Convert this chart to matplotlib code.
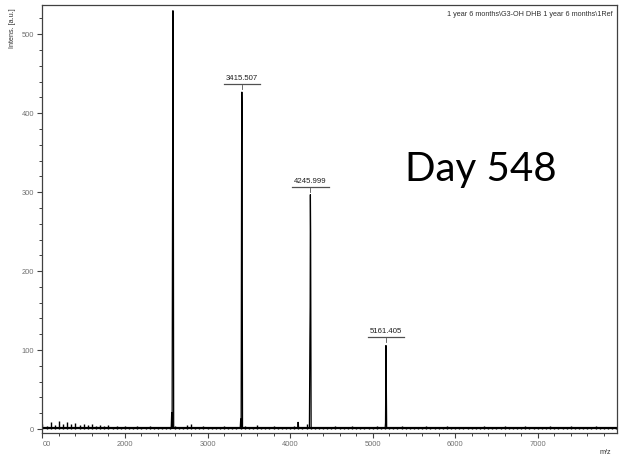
import numpy as np
import matplotlib
matplotlib.use("Agg")
import matplotlib.pyplot as plt
from matplotlib.transforms import offset_copy

# ---- spectrum data (m/z, intensity in a.u.) ----
noise_start = 1000
noise_step = 50
noise_int = [
    6, 4, 9, 5, 10, 7, 9, 6, 8, 5, 7, 5, 6, 4, 5, 4, 5, 3, 4, 3,
    4, 3, 3, 4, 2, 3, 4, 3, 2, 3, 3, 2, 4, 2, 3, 5, 6, 3, 3, 4,
    2, 3, 2, 3, 4, 2, 3, 2, 3, 4, 2, 3, 5, 3, 2, 3, 4, 3, 2, 3,
    3, 4, 2, 3, 6, 3, 2, 3, 3, 2, 3, 4, 3, 2, 3, 4, 3, 2, 3, 2,
    3, 4, 2, 3, 2, 3, 2, 4, 2, 3, 3, 2, 3, 4, 3, 3, 2, 3, 4, 2,
    3, 3, 2, 3, 2, 3, 2, 4, 3, 2, 3, 3, 4, 2, 3, 2, 3, 4, 3, 2,
    3, 2, 3, 4, 3, 2, 3, 2, 4, 3, 3, 2, 3, 2, 4, 3, 2, 3, 3, 2,
]

peak_mz = [2560, 2566, 2571, 2578, 2581, 2584, 2590,
           3396, 3402, 3407, 3413, 3415.507, 3418, 3424,
           4092, 4098, 4104,
           4234, 4240, 4243, 4245.999, 4249, 4255,
           5152, 5156, 5161.405, 5164, 5170]
peak_int = [1, 21, 1, 390, 530, 505, 1,
            1, 13, 1, 362, 427, 407, 1,
            1, 9, 1,
            1, 115, 155, 297, 248, 1,
            1, 8, 106, 80, 1]

labeled_mz = [3415.507, 4245.999, 5161.405]
labeled_int = [427, 297, 106]

x_ticks = [1000, 2000, 3000, 4000, 5000, 6000, 7000]
x_tick_labels = ["00", "2000", "3000", "4000", "5000", "6000", "7000"]
y_ticks = [0, 100, 200, 300, 400, 500]

noise_mz = noise_start + noise_step * np.arange(len(noise_int))

plt.rcParams["font.family"] = ["Liberation Sans", "DejaVu Sans"]

fig = plt.figure(figsize=(6.2, 4.69), dpi=100)
ax = fig.add_axes([42 / 620, 1 - 433 / 469, (617 - 42) / 620, (433 - 5) / 469])

# baseline band with noise spikes, then the peak profiles on top
ax.axhline(1.2, color="black", lw=1.6, zorder=2)
ax.vlines(noise_mz, 0, noise_int, color="black", lw=1.0, zorder=2)
ax.plot(peak_mz, peak_int, color="black", lw=0.9, solid_joinstyle="miter",
        zorder=3)

ax.set_xlim(995, 7960)
ax.set_ylim(-5, 537)

grey = "#707070"
for s in ax.spines.values():
    s.set_color("#404040")
    s.set_linewidth(0.9)

ax.set_xticks(x_ticks)
ax.set_xticklabels(x_tick_labels)
ax.set_yticks(y_ticks)
ax.set_xticks(np.arange(1000, 7960, 200), minor=True)
ax.set_yticks(np.arange(0, 537, 20), minor=True)
ax.tick_params(which="major", length=3.5, width=0.8, color="#404040",
               labelsize=5.4, labelcolor=grey, pad=2)
ax.tick_params(which="minor", length=2.5, width=0.7, color="#404040")
for lbl in ax.get_xticklabels():
    if lbl.get_text() == "00":
        lbl.set_horizontalalignment("left")

# peak labels: value text, underline bar and a short marker tick
fig.canvas.draw()
for x, h in zip(labeled_mz, labeled_int):
    bar = offset_copy(ax.transData, fig=fig, y=8, units="dots")
    txt = offset_copy(ax.transData, fig=fig, y=10, units="dots")
    ax.plot([x - 220, x + 220], [h, h], transform=bar, color="#505050",
            lw=0.9, clip_on=False)
    ax.text(x, h, f"{x:.3f}", transform=txt, ha="center", va="bottom",
            fontsize=5.6, color="#202020")
    xd, yd = ax.transData.transform((x, h))
    fig.add_artist(plt.Line2D([xd, xd], [yd + 3, yd + 7], transform=None,
                              color="#505050", lw=0.6))

ax.text(0.993, 0.985, r"1 year 6 months\G3-OH DHB 1 year 6 months\1Ref",
        transform=ax.transAxes, ha="right", va="top", fontsize=5.2,
        color="#303030")

fig.text(13 / 620, 1 - 8 / 469, "Intens. [a.u.]", rotation=90, ha="center",
         va="top", fontsize=5.2, color="#303030")
fig.text(605 / 620, 1 - 452 / 469, "m/z", ha="center", va="center",
         fontsize=5.2, color="#303030")

fig.text(481 / 620, 1 - 169 / 469, "Day 548",
         ha="center", va="center", fontsize=29, color="black",
         family=["Lato", "DejaVu Sans"])

fig.savefig("out.png", dpi=100)
